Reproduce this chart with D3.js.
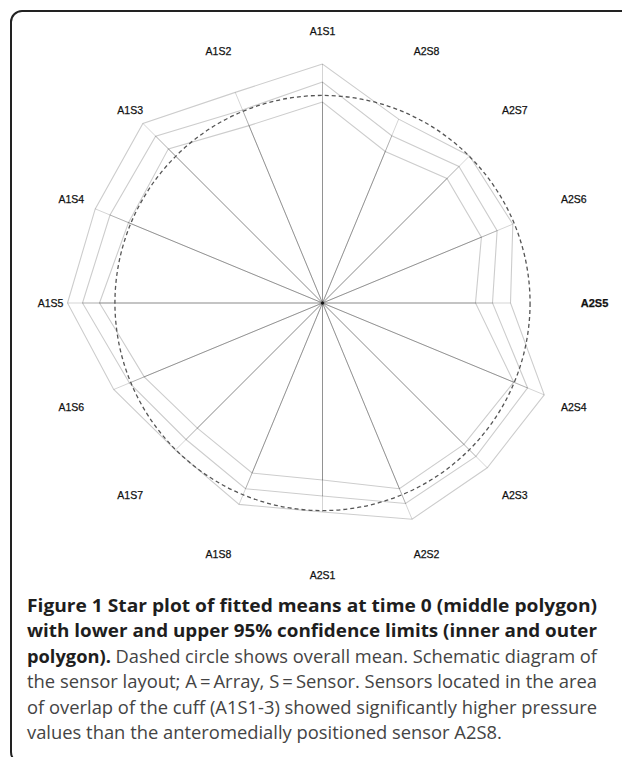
<!DOCTYPE html>
<html>
<head>
<meta charset="utf-8">
<script src="https://cdn.jsdelivr.net/npm/d3@7"></script>
<style>
body { margin: 0; background: #fff; }
</style>
</head>
<body>
<script>
// sensors, counter-clockwise from the top
var sensors = ["A1S1", "A1S2", "A1S3", "A1S4", "A1S5", "A1S6", "A1S7", "A1S8",
               "A2S1", "A2S2", "A2S3", "A2S4", "A2S5", "A2S6", "A2S7", "A2S8"];
// upper 95% limit, fitted mean, lower 95% limit
var upper  = [239, 228, 254, 246, 255, 226, 208, 218, 209, 234, 233, 240, 188, 206, 208, 199];
var fitted = [221, 209, 236, 230, 240, 209, 193, 201, 193, 217, 217, 222, 170, 189, 193, 181];
var lower  = [201, 192, 218, 210, 223, 193, 177, 184, 177, 201, 200, 207, 153, 172, 176, 164];

var captionLines = [
    ["Figure 1 Star plot of fitted means at time 0 (middle polygon)", ""],
    ["with lower and upper 95% confidence limits (inner and outer", ""],
    ["polygon).", " Dashed circle shows overall mean. Schematic diagram of"],
    ["", "the sensor layout; A\u2009=\u2009Array, S\u2009=\u2009Sensor. Sensors located in the area"],
    ["", "of overlap of the cuff (A1S1-3) showed significantly higher pressure"],
    ["", "values than the anteromedially positioned sensor A2S8."]
];

var svg = d3.select("body")
    .append("svg")
    .attr("width", 622)
    .attr("height", 757)
    .style("display", "block");

// frame
svg.append("rect")
    .attr("x", 11).attr("y", 11)
    .attr("width", 700).attr("height", 752)
    .attr("rx", 11)
    .attr("fill", "none")
    .attr("stroke", "#222")
    .attr("stroke-width", 2);

var cx = 322.5, cy = 303;
var g = svg.append("g").attr("transform", "translate(" + cx + "," + cy + ")");

var r = d3.scaleLinear().domain([0, 260]).range([0, 260]);
var angle = d3.scaleLinear().domain([0, sensors.length]).range([0, -2 * Math.PI]);

var radial = d3.lineRadial()
    .angle(function(d, i) { return angle(i); })
    .radius(function(d) { return r(d); })
    .curve(d3.curveLinearClosed);

function px(i, v) { return r(v) * Math.sin(angle(i)); }
function py(i, v) { return -r(v) * Math.cos(angle(i)); }

// each star draws its own radii, so they darken towards the centre
[upper, fitted, lower].forEach(function(series) {
    g.selectAll(null)
        .data(series)
        .enter()
        .append("line")
        .attr("x1", 0).attr("y1", 0)
        .attr("x2", function(d, i) { return px(i, d); })
        .attr("y2", function(d, i) { return py(i, d); })
        .attr("stroke", "rgba(0,0,0,0.17)")
        .attr("stroke-width", 1);
    g.append("path")
        .attr("d", radial(series))
        .attr("fill", "none")
        .attr("stroke", "rgba(0,0,0,0.2)")
        .attr("stroke-width", 1.1);
});

// overall mean
g.append("circle")
    .attr("r", r(d3.mean(fitted)))
    .attr("fill", "none")
    .attr("stroke", "#555")
    .attr("stroke-width", 1.3)
    .attr("stroke-dasharray", "4,3");

g.append("circle").attr("r", 1.5).attr("fill", "#111");

g.selectAll(".lab")
    .data(sensors)
    .enter()
    .append("text")
    .attr("class", "lab")
    .attr("x", function(d, i) { return px(i, 272); })
    .attr("y", function(d, i) { return py(i, 272); })
    .attr("text-anchor", "middle")
    .attr("dy", "0.35em")
    .style("font-family", "'Liberation Sans', Arial, sans-serif")
    .style("font-size", function(d) { return d == "A2S5" ? "11px" : "10.5px"; })
    .style("font-weight", function(d) { return d == "A2S5" ? "bold" : "normal"; })
    .style("fill", "#111")
    .style("stroke", "#111")
    .style("stroke-width", 0.25)
    .text(function(d) { return d; });

// caption: justified lines, last one keeps the same squeeze as the line above
var cap = svg.append("g")
    .style("font-family", "'Open Sans', sans-serif")
    .style("font-size", "17.5px");

var lineW = 570, squeeze = 1;
captionLines.forEach(function(line, k) {
    var t = cap.append("text")
        .attr("x", 27)
        .attr("y", 612 + k * 25.4);
    t.append("tspan").style("font-weight", "bold").style("fill", "#1e1e1e").text(line[0]);
    t.append("tspan").style("fill", "#444").text(line[1]);
    var natural = t.node().getComputedTextLength();
    var target = lineW;
    if (k == captionLines.length - 1) target = natural * squeeze;
    else squeeze = lineW / natural;
    t.attr("textLength", target).attr("lengthAdjust", "spacingAndGlyphs");
});
</script>
</body>
</html>
